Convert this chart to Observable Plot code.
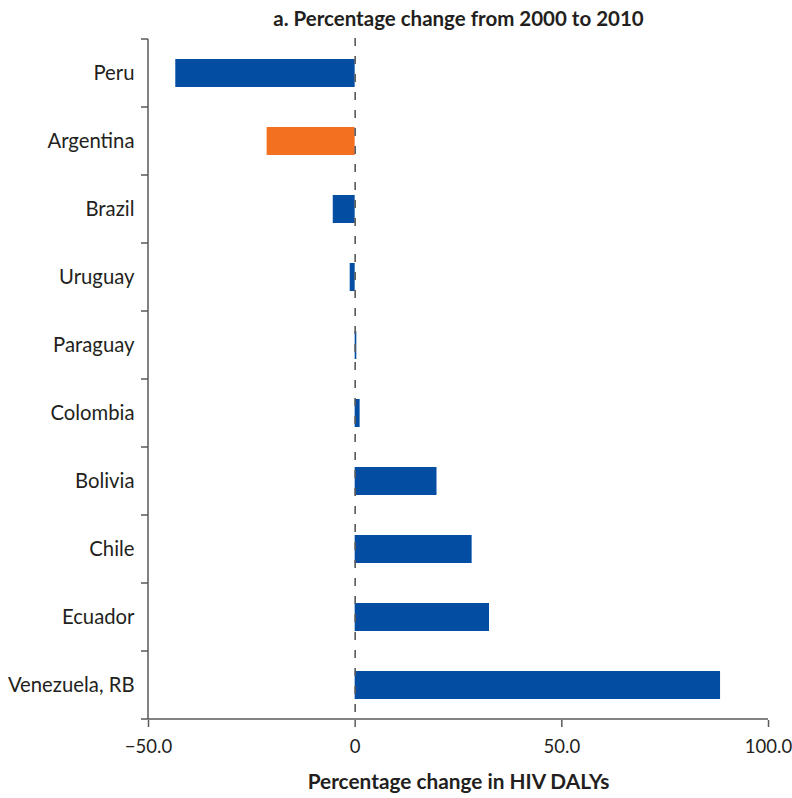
<!DOCTYPE html>
<html><head><meta charset="utf-8">
<script src="https://cdn.jsdelivr.net/npm/d3@7"></script>
<script src="https://cdn.jsdelivr.net/npm/@observablehq/plot@0.6"></script>
<style>body{margin:0;background:#fff;}</style>
</head><body><div id="chart"></div>
<script>
const countries = ["Peru","Argentina","Brazil","Uruguay","Paraguay","Colombia","Bolivia","Chile","Ecuador","Venezuela, RB"];
const changes = [-43.4,-21.3,-5.3,-1.2,0.4,1.2,19.8,28.3,32.5,88.4];
const highlighted = ["Argentina"];
const xTicks = [-50,0,50,100];
const xTickLabels = ["\u221250.0","0","50.0","100.0"];
const title = "a. Percentage change from 2000 to 2010";
const xLabel = "Percentage change in HIV DALYs";

const BLUE = "#034EA2", ORANGE = "#F37021", AXIS = "#595959", TEXT = "#231F20";
const FONT = "Lato";

const data = countries.map((c, i) => ({country: c, change: changes[i], group: highlighted.includes(c) ? "highlight" : "other"}));

// custom mark: tick marks at band boundaries on the left axis + axis lines
function bandBoundaryTicks(index, scales, values, dimensions) {
  const y = scales.y, x = scales.x;
  const st = y.step(), bw = y.bandwidth();
  const g = d3.create("svg:g").attr("stroke", AXIS).attr("stroke-width", 1.5);
  const x0 = x(xTicks[0]);
  const bounds = countries.map(c => y(c) - (st - bw) / 2);
  bounds.push(y(countries[countries.length - 1]) - (st - bw) / 2 + st);
  for (const b of bounds) {
    g.append("line").attr("x1", x0 - 7).attr("x2", x0).attr("y1", b).attr("y2", b);
  }
  const last = bounds[bounds.length - 1];
  g.append("line").attr("x1", x0).attr("x2", x(xTicks[xTicks.length - 1])).attr("y1", last).attr("y2", last);
  g.append("line").attr("x1", x0).attr("x2", x0).attr("y1", bounds[0]).attr("y2", last);
  return g.node();
}

const chart = Plot.plot({
  width: 792,
  height: 798,
  marginTop: 38,
  marginBottom: 78,
  marginLeft: 148,
  marginRight: 24,
  style: {fontFamily: FONT, fontSize: "20px", color: TEXT, background: "#fff"},
  x: {domain: [xTicks[0], xTicks[xTicks.length - 1]]},
  y: {domain: countries, paddingInner: 0.59, paddingOuter: 0.295},
  color: {domain: ["other", "highlight"], range: [BLUE, ORANGE]},
  marks: [
    Plot.barX(data, {x: "change", y: "country", fill: "group"}),
    Plot.ruleX([0], {stroke: AXIS, strokeWidth: 1.6, strokeDasharray: "8,10"}),
    bandBoundaryTicks,
    Plot.axisY({tickSize: 0, tickPadding: 14, fill: TEXT, fontSize: 20.3, label: null}),
    Plot.axisX({ticks: xTicks, tickFormat: d => xTickLabels[xTicks.indexOf(d)], tickSize: 7, tickPadding: 12, stroke: AXIS, strokeWidth: 1.5, fill: TEXT, fontSize: 18.5, label: null}),
    Plot.text([title], {frameAnchor: "top", lineAnchor: "middle", dy: -19, fontWeight: "bold", fontSize: 20.5, fill: TEXT}),
    Plot.text([xLabel], {frameAnchor: "bottom", lineAnchor: "middle", dy: 62, fontWeight: "bold", fontSize: 20.8, fill: TEXT})
  ]
});
document.getElementById("chart").appendChild(chart);
</script>
</body></html>
